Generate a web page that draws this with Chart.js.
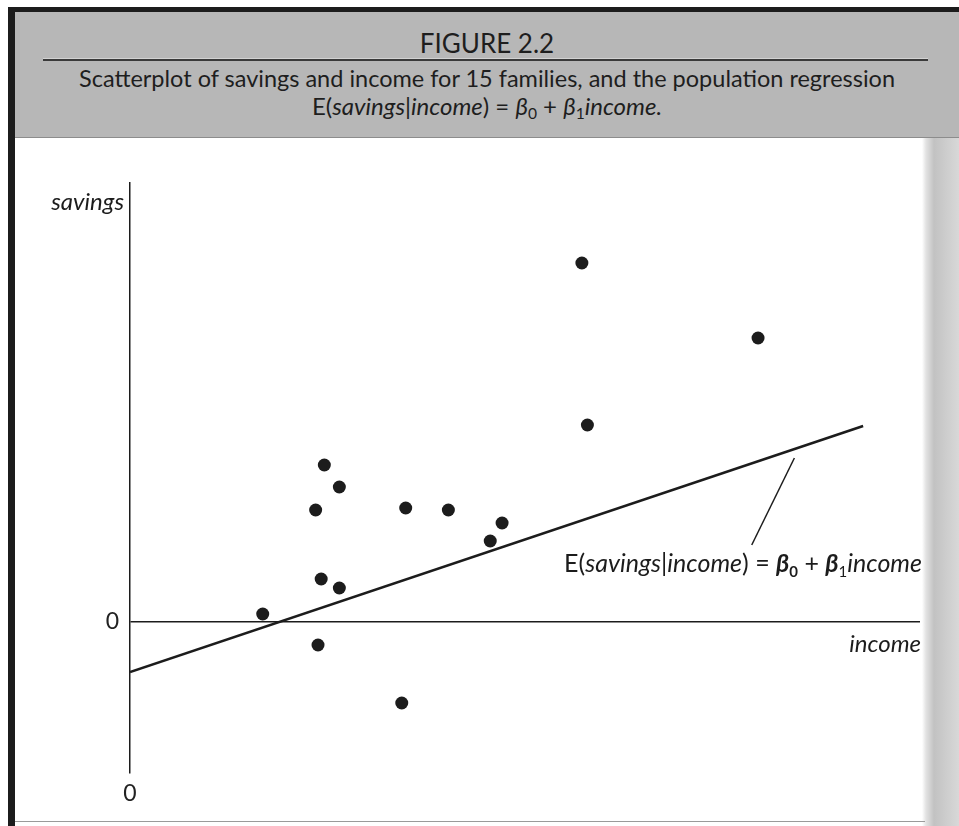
<!DOCTYPE html>
<html>
<head>
<meta charset="utf-8">
<script src="https://cdn.jsdelivr.net/npm/chart.js@4.4.1/dist/chart.umd.min.js"></script>
<style>
    body {
        margin: 0;
        width: 959px;
        height: 826px;
        overflow: hidden;
        position: relative;
        background: #fff;
        font-family: Lato, 'Open Sans', sans-serif;
        color: #1e1e1e;
    }
    .abs { position: absolute; }
    #frame-top { left: 8px; top: 7px; width: 951px; height: 5px; background: #1c1c1c; }
    #frame-left { left: 8px; top: 7px; width: 7px; height: 819px; background: #1c1c1c; }
    #frame-bottom { left: 15px; top: 821px; width: 910px; height: 1px; background: #9a9a9a; }
    #header { left: 15px; top: 12px; width: 944px; height: 125px; background: #b7b7b7; border-bottom: 1px solid #8c8c8c; }
    #gutter { left: 922px; top: 138px; width: 37px; height: 688px;
        background: linear-gradient(to right, #fff 0, #e2e2e2 4px, #c2c2c2 12px, #cdcdcd 24px, #d8d8d8 37px); }
    #rule { left: 43px; top: 58px; width: 885px; height: 1px; background: #d2d2d2; border-bottom: 2px solid #3a3a3a; }
    .line { left: 15px; width: 944px; text-align: center; white-space: nowrap; }
    #fig-no { top: 27px; font-size: 26px; }
    #cap-1 { top: 64px; font-size: 23.5px; }
    #cap-2 { top: 91px; font-size: 24px; }
    sub { font-size: 0.65em; vertical-align: -0.25em; }
    #chart-box { left: 0; top: 0; width: 959px; height: 826px; }
</style>
</head>
<body>
<div class="abs" id="header"></div>
<div class="abs" id="gutter"></div>
<div class="abs" id="frame-top"></div>
<div class="abs" id="frame-left"></div>
<div class="abs" id="frame-bottom"></div>
<div class="abs" id="rule"></div>
<div class="abs line" id="fig-no">FIGURE 2.2</div>
<div class="abs line" id="cap-1">Scatterplot of savings and income for 15 families, and the population regression</div>
<div class="abs line" id="cap-2">E(<i>savings</i>|<i>income</i>) = <i>β</i><sub>0</sub> + <i>β</i><sub>1</sub><i>income.</i></div>
<div class="abs" id="chart-box"><canvas id="scatter-chart" width="959" height="826"></canvas></div>

<script>
// Scatter of savings against income, 15 families
const income  = [16.8, 23.8, 24.2, 26.5, 23.5, 26.5, 24.6, 34.9, 40.3, 34.4, 45.6, 47.1, 57.9, 57.2, 79.5];
const savings = [1.6, -4.6, 8.6, 6.8, 22.4, 27.0, 31.4, 22.8, 22.4, -16.2, 16.2, 19.8, 39.4, 71.8, 56.8];

// Population regression line, end points
const lineIncome  = [0, 92.8];
const lineSavings = [-10, 39.2];

// Leader from the label up to the line
const leaderIncome  = [84.1, 78.7];
const leaderSavings = [32.8, 15.4];

// Axis ranges and the only tick on each axis
const incomeRange  = [0, 100];
const savingsRange = [-30.2, 87.8];
const axisTicks    = [0];

const INK = '#1c1c1c';
const FONT = "Lato, 'Open Sans', sans-serif";

function toPoints(xs, ys) {
    return xs.map((x, i) => ({ x: x, y: ys[i] }));
}

// Draw a list of text runs with their own fonts
function drawRuns(ctx, runs, x, y, align) {
    let total = 0;
    runs.forEach(r => { ctx.font = r.font; total += ctx.measureText(r.text).width; });
    let cx = align === 'right' ? x - total : x;
    runs.forEach(r => {
        ctx.font = r.font;
        ctx.fillText(r.text, cx, y + (r.dy || 0));
        cx += ctx.measureText(r.text).width;
    });
}

// Axis names and the regression label
const labelsPlugin = {
    id: 'figureLabels',
    afterDraw(chart) {
        const ctx = chart.ctx;
        const area = chart.chartArea;
        const yZero = chart.scales.y.getPixelForValue(0);
        const it = 'italic 24px ' + FONT;
        const lab = 'italic 25px ' + FONT;
        const up = '25px ' + FONT;
        const sub = '15px ' + FONT;
        ctx.save();
        ctx.fillStyle = INK;
        ctx.textBaseline = 'alphabetic';
        ctx.textAlign = 'left';

        drawRuns(ctx, [{ text: 'savings', font: it }], area.left - 6, area.top + 27, 'right');
        drawRuns(ctx, [{ text: 'income', font: it }], area.right + 1, yZero + 30, 'right');

        drawRuns(ctx, [
            { text: 'E(', font: up },
            { text: 'savings', font: lab },
            { text: '|', font: up },
            { text: 'income', font: lab },
            { text: ') = ', font: up },
            { text: 'β', font: 'italic bold 25px ' + FONT },
            { text: '0', font: 'bold ' + sub, dy: 5 },
            { text: ' + ', font: up },
            { text: 'β', font: 'italic bold 25px ' + FONT },
            { text: '1', font: sub, dy: 5 },
            { text: 'income', font: lab }
        ], area.right + 2, yZero - 50, 'right');
        ctx.restore();
    }
};

function init() {
    const ctx = document.getElementById('scatter-chart');
    new Chart(ctx, {
        type: 'scatter',
        data: {
            datasets: [
                {
                    label: 'families',
                    data: toPoints(income, savings),
                    pointRadius: 6.5,
                    pointBackgroundColor: INK,
                    pointBorderWidth: 0
                },
                {
                    label: 'regression',
                    data: toPoints(lineIncome, lineSavings),
                    showLine: true,
                    borderColor: INK,
                    borderWidth: 2.6,
                    pointRadius: 0
                },
                {
                    label: 'leader',
                    data: toPoints(leaderIncome, leaderSavings),
                    showLine: true,
                    borderColor: INK,
                    borderWidth: 1.5,
                    pointRadius: 0
                }
            ]
        },
        options: {
            responsive: false,
            animation: false,
            layout: { padding: { left: 90, top: 183, right: 39, bottom: 13 } },
            plugins: { legend: { display: false }, tooltip: { enabled: false } },
            scales: {
                x: {
                    min: incomeRange[0],
                    max: incomeRange[1],
                    afterFit: s => { s.height = 40; },
                    afterBuildTicks: s => { s.ticks = axisTicks.map(v => ({ value: v })); },
                    grid: { display: false },
                    border: { display: false },
                    ticks: { color: '#222', padding: -1, font: { family: FONT, size: 23 } }
                },
                y: {
                    min: savingsRange[0],
                    max: savingsRange[1],
                    afterFit: s => { s.width = 40; },
                    afterBuildTicks: s => { s.ticks = axisTicks.map(v => ({ value: v })); },
                    grid: { color: INK, lineWidth: 1.5, drawTicks: false },
                    border: { display: true, color: INK, width: 1.5 },
                    ticks: { color: '#222', padding: 11, font: { family: FONT, size: 23 } }
                }
            }
        },
        plugins: [labelsPlugin]
    });
}

document.addEventListener('DOMContentLoaded', init);
</script>
</body>
</html>
